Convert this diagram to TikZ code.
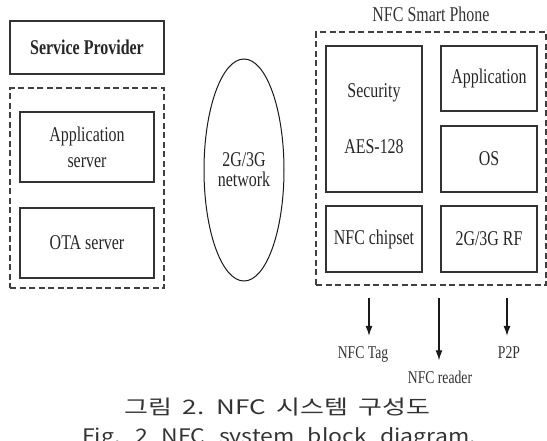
\documentclass[tikz,border=0pt]{standalone}
\usepackage{fontspec}
\setmainfont{Liberation Serif}[FakeStretch=0.76]
\newfontfamily\krfont{Noto Sans CJK KR}[FakeStretch=1.3, WordSpace=1.8]
\newfontfamily\enfont{Noto Sans CJK KR}[FakeStretch=1.15, WordSpace=2.6]
\usetikzlibrary{shapes.geometric, arrows.meta, positioning}
\tikzset{
  block/.style={draw=black!80, line width=1.1pt, rectangle, minimum width=96pt, minimum height=66pt, inner sep=0pt, align=center, text=black!85, font=\fontsize{21}{26}\selectfont},
  group/.style={draw=black!75, line width=1.1pt, dash pattern=on 6pt off 3.5pt, rectangle, inner sep=0pt},
  arrow/.style={line width=1.2pt, draw=black!90, -{Latex[length=10pt,width=7pt]}, shorten >=10pt},
  outlabel/.style={font=\fontsize{18}{20}\selectfont, text=black!80, inner sep=0pt, anchor=base},
  caption/.style={text=black!80, inner sep=0pt, anchor=base}
}

\begin{document}
\begin{tikzpicture}[x=1pt, y=-1pt]
    % frame of the figure, 547 x 440
    \useasboundingbox (0,0) rectangle (547,440);
    \clip (0,0) rectangle (547,440);

    % Service provider side
    \node (provider) [block, minimum width=154pt, minimum height=53pt, font=\bfseries\fontsize{21}{26}\selectfont] at (87,47.5) {Service Provider};
    \node (servers) [group, minimum width=154pt, minimum height=200pt] at (87,188) {};
    \node (appserver) [block, minimum width=134pt, minimum height=70pt] at (87,147) {Application\\server};
    \node (otaserver) [block, minimum width=134pt, minimum height=70pt] at (87,243) {OTA server};

    % Mobile network
    \node (network) [draw=black!90, ellipse, line width=1pt, minimum width=80pt, minimum height=222pt, inner sep=0pt, align=center, text=black!85, font=\fontsize{21}{20}\selectfont] at (244,170) {2G/3G\\network};

    % NFC smart phone
    \node (phone) [group, minimum width=230pt, minimum height=253pt] at (431,158.5) {};
    \node (phonelabel) [font=\fontsize{21}{26}\selectfont, text=black!80, inner sep=0pt] at (431,14) {NFC Smart Phone};
    \node (security) [block, minimum height=146pt] at (374,119) {Security\\[30pt]AES-128};
    \node (application) [block, minimum height=65pt] at (489,78.5) {Application};
    \node (os) [block] at (489,159) {OS};
    \node (chipset) [block] at (374,239) {NFC chipset};
    \node (rf) [block] at (489,239) {2G/3G RF};

    % NFC modes
    \coordinate (tagtop) at (369,298);
    \coordinate (readertop) at (439,298);
    \coordinate (ptoptop) at (507,298);
    \node (tag) [outlabel] at (363,358) {NFC Tag};
    \node (reader) [outlabel] at (440,383) {NFC reader};
    \node (ptop) [outlabel] at (509,358) {P2P};
    \draw[arrow] (tagtop) -- (tagtop |- tag.north);
    \draw[arrow] (readertop) -- (readertop |- reader.north);
    \draw[arrow] (ptoptop) -- (ptoptop |- ptop.north);

    % caption
    \node (captionkr) [caption, font=\krfont\fontsize{20}{24}\selectfont] at (277.5,414) {그림 2. NFC 시스템 구성도};
    \node (captionen) [caption, font=\enfont\fontsize{20}{24}\selectfont] at (279,443) {Fig. 2 NFC system block diagram.};
\end{tikzpicture}
\end{document}
